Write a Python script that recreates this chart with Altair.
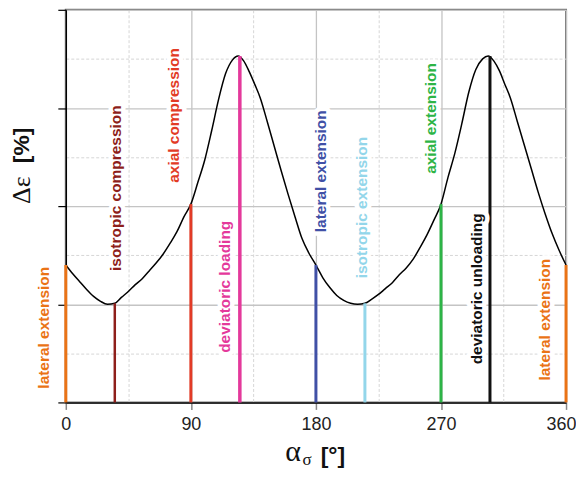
import altair as alt
import pandas as pd

# ---- data ----
curve_x = [0, 5, 10, 15, 20, 25, 30, 35.26, 40, 45, 50, 55, 60, 65, 70, 75, 80, 85, 90,
           95, 100, 105, 110, 115, 120, 124, 128, 132, 136, 140, 145, 150, 155, 160, 165,
           170, 175, 180, 185, 190, 195, 200, 205, 210, 215.26, 220, 225, 230, 235, 240,
           245, 250, 255, 260, 265, 270, 275, 280, 285, 290, 295, 300, 304, 308, 312, 316,
           320, 325, 330, 335, 340, 345, 350, 355, 360]
curve_y = [1.40, 1.31, 1.23, 1.15, 1.08, 1.03, 1.00, 1.01, 1.07, 1.13, 1.20, 1.26, 1.34,
           1.42, 1.51, 1.62, 1.74, 1.89, 2.02, 2.24, 2.47, 2.77, 3.09, 3.35, 3.49, 3.53,
           3.48, 3.37, 3.24, 3.10, 2.86, 2.61, 2.36, 2.12, 1.89, 1.67, 1.52, 1.40, 1.27,
           1.17, 1.09, 1.04, 1.01, 1.00, 1.01, 1.05, 1.10, 1.16, 1.22, 1.30, 1.37, 1.46,
           1.58, 1.71, 1.86, 2.02, 2.29, 2.54, 2.84, 3.16, 3.39, 3.50, 3.53, 3.48, 3.38,
           3.24, 3.10, 2.86, 2.62, 2.38, 2.14, 1.92, 1.72, 1.55, 1.40]

line_x = [0, 35.26, 90, 125.26, 180, 215.26, 270, 305.26, 360]
line_top = [1.40, 1.01, 2.02, 3.53, 1.40, 1.01, 2.02, 3.53, 1.40]
line_names = ["lateral extension", "isotropic compression", "axial compression",
              "deviatoric loading", "lateral extension", "isotropic extension",
              "axial extension", "deviatoric unloading", "lateral extension"]
line_colors = ["#EA7316", "#8E1F1B", "#E23B26", "#E4399B", "#4050A6", "#93D6EA",
               "#2DB446", "#111111", "#EA7316"]
line_widths = [3, 2.5, 3, 3.5, 3, 3, 3, 3, 3]
label_x = [-15.8, 35.9, 78.2, 114.7, 183.6, 213.0, 262.5, 296.2, 344.6]
label_y = [0.761, 2.183, 2.924, 1.178, 2.355, 1.985, 2.893, 1.157, 0.843]

x_ticks = [0, 45, 90, 135, 180, 225, 270, 315, 360]
y_ticks = [0, 0.5, 1, 1.5, 2, 2.5, 3, 3.5, 4]

# ---- tables ----
ids = [str(i) for i in range(len(line_x))]
curve_df = pd.DataFrame({"x": curve_x, "y": curve_y})
lines_df = pd.DataFrame({"id": ids, "x": line_x, "y0": [0] * len(line_x), "top": line_top,
                         "name": line_names, "w": line_widths,
                         "lx": label_x, "ly": label_y})

xscale = alt.Scale(domain=[0, 360], nice=False, zero=False)
yscale = alt.Scale(domain=[0, 4], nice=False, zero=False)
cscale = alt.Scale(domain=ids, range=line_colors)

major_x = "datum.value % 90 === 0"
major_y = "datum.value % 1 === 0"

x_axis = alt.Axis(
    values=x_ticks, title=None,
    labelExpr="datum.value % 90 === 0 ? datum.label : ''",
    labelFont="Liberation Sans", labelFontSize=18, labelColor="#222222", labelPadding=6,
    labelFlush=False,
    labelOffset={"condition": {"test": "datum.value === 360", "value": -5}, "value": 0},
    tickSize=7, tickColor="#888888", tickWidth=1.5,
    tickOpacity={"condition": {"test": major_x, "value": 1}, "value": 0},
    domainColor="#000000", domainWidth=1.5,
    grid=True,
    gridColor={"condition": {"test": major_x, "value": "#c4c4c4"}, "value": "#d6d6d6"},
    gridDash={"condition": {"test": major_x, "value": []}, "value": [3, 2]},
    gridWidth={"condition": {"test": major_x, "value": 1.3}, "value": 1},
)
y_axis = alt.Axis(
    values=y_ticks, title=None, labels=False,
    tickSize=8, tickColor="#000000", tickWidth=1.2,
    tickOpacity={"condition": {"test": major_y, "value": 1}, "value": 0},
    domainColor="#000000", domainWidth=1.5,
    grid=True,
    gridColor={"condition": {"test": major_y, "value": "#c4c4c4"}, "value": "#d6d6d6"},
    gridDash={"condition": {"test": major_y, "value": []}, "value": [3, 2]},
    gridWidth={"condition": {"test": major_y, "value": 1.3}, "value": 1},
)

curve = alt.Chart(curve_df).mark_line(color="black", strokeWidth=1.5,
                                      interpolate="monotone").encode(
    x=alt.X("x:Q", scale=xscale, axis=x_axis),
    y=alt.Y("y:Q", scale=yscale, axis=y_axis),
)

rules = alt.Chart(lines_df).mark_rule().encode(
    x=alt.X("x:Q", scale=xscale, axis=x_axis),
    y=alt.Y("y0:Q", scale=yscale, axis=y_axis),
    y2="top:Q",
    color=alt.Color("id:N", scale=cscale, legend=None),
    strokeWidth=alt.StrokeWidth("w:Q", scale=None, legend=None),
)

label_font = dict(angle=270, align="center", baseline="middle", fontSize=15.5,
                  fontWeight="bold", font="Liberation Sans")

halos = alt.Chart(lines_df).mark_text(fill="white", stroke="white", strokeWidth=9,
                                      strokeJoin="round", **label_font).encode(
    x=alt.X("lx:Q", scale=xscale, axis=x_axis),
    y=alt.Y("ly:Q", scale=yscale, axis=y_axis),
    text="name:N",
)

labels = alt.Chart(lines_df).mark_text(**label_font).encode(
    x=alt.X("lx:Q", scale=xscale, axis=x_axis),
    y=alt.Y("ly:Q", scale=yscale, axis=y_axis),
    text="name:N",
    color=alt.Color("id:N", scale=cscale, legend=None),
)

# ---- axis titles (mixed fonts, subscript) ----
def txt(s, x, y, **kw):
    return alt.Chart(pd.DataFrame({"t": [s]})).mark_text(**kw).encode(
        x=alt.value(x), y=alt.value(y), text="t:N")

yt1 = txt("Δε", -44, 181, angle=270, align="center", baseline="middle",
          font="Liberation Serif", fontSize=26, color="#111111")
yt2 = txt("[%]", -44, 136, angle=270, align="center", baseline="middle",
          font="Liberation Sans", fontSize=23, fontWeight="bold", color="#111111")
xt1 = txt("α", 228, 453, align="center", baseline="alphabetic",
          font="Liberation Serif", fontSize=30, color="#111111")
xt2 = txt("σ", 242, 457, align="center", baseline="alphabetic",
          font="Liberation Serif", fontSize=17, color="#111111")
xt3 = txt("[°]", 268, 455, align="center", baseline="alphabetic",
          font="Liberation Sans", fontSize=23, fontWeight="bold", color="#111111")

chart = alt.layer(curve, rules, halos, labels, yt1, yt2, xt1, xt2, xt3).properties(
    width=502, height=394,
    autosize=alt.AutoSizeParams(type="none"),
    padding={"left": 58, "top": 1, "right": 10, "bottom": 68},
).configure_view(stroke="#777777", strokeWidth=2)

chart.save("out.html", embed_options={"renderer": "svg", "actions": False})
